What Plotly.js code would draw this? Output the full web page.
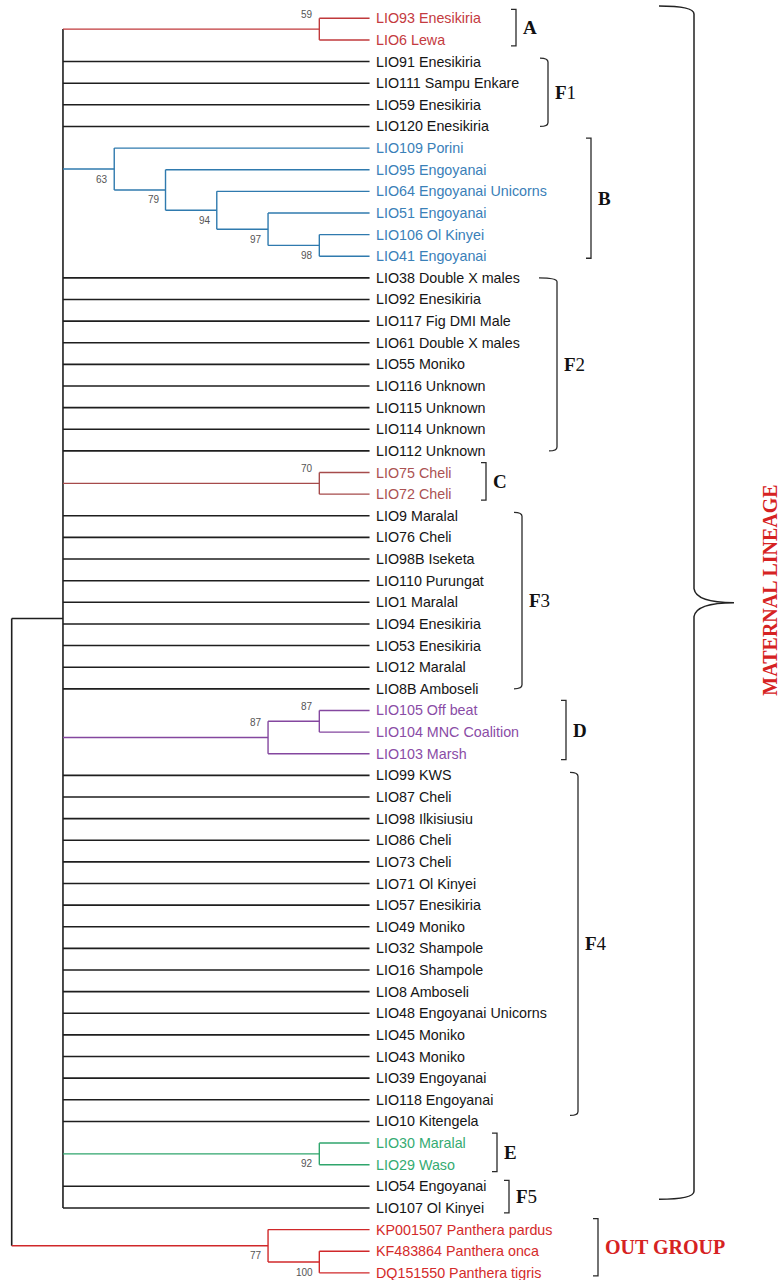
<!DOCTYPE html>
<html><head><meta charset="utf-8">
<script src="https://cdn.plot.ly/plotly-3.0.1.min.js"></script>
<style>html,body{margin:0;padding:0;background:#fff}#chart{width:783px;height:1280px}</style>
</head><body><div id="chart"></div>
<script>
// ---------------- DATA ----------------
const taxa = [
 'LIO93 Enesikiria','LIO6 Lewa',
 'LIO91 Enesikiria','LIO111 Sampu Enkare','LIO59 Enesikiria','LIO120 Enesikiria',
 'LIO109 Porini','LIO95 Engoyanai','LIO64 Engoyanai Unicorns','LIO51 Engoyanai','LIO106 Ol Kinyei','LIO41 Engoyanai',
 'LIO38 Double X males','LIO92 Enesikiria','LIO117 Fig DMI Male','LIO61 Double X males','LIO55 Moniko','LIO116 Unknown','LIO115 Unknown','LIO114 Unknown','LIO112 Unknown',
 'LIO75 Cheli','LIO72 Cheli',
 'LIO9 Maralal','LIO76 Cheli','LIO98B Iseketa','LIO110 Purungat','LIO1 Maralal','LIO94 Enesikiria','LIO53 Enesikiria','LIO12 Maralal','LIO8B Amboseli',
 'LIO105 Off beat','LIO104 MNC Coalition','LIO103 Marsh',
 'LIO99 KWS','LIO87 Cheli','LIO98 Ilkisiusiu','LIO86 Cheli','LIO73 Cheli','LIO71 Ol Kinyei','LIO57 Enesikiria','LIO49 Moniko','LIO32 Shampole','LIO16 Shampole','LIO8 Amboseli','LIO48 Engoyanai Unicorns','LIO45 Moniko','LIO43 Moniko','LIO39 Engoyanai','LIO118 Engoyanai','LIO10 Kitengela',
 'LIO30 Maralal','LIO29 Waso',
 'LIO54 Engoyanai','LIO107 Ol Kinyei',
 'KP001507 Panthera pardus','KF483864 Panthera onca','DQ151550 Panthera tigris'
];
const taxonParent = [
 'A','A',
 'IN','IN','IN','IN',
 'B','B79','B94','B97','B98','B98',
 'IN','IN','IN','IN','IN','IN','IN','IN','IN',
 'C','C',
 'IN','IN','IN','IN','IN','IN','IN','IN','IN',
 'D87','D87','D',
 'IN','IN','IN','IN','IN','IN','IN','IN','IN','IN','IN','IN','IN','IN','IN','IN','IN',
 'E','E',
 'IN','IN',
 'OUT','OUT100','OUT100'
];
const nodeIds      = ['ROOT','IN','A','B','B79','B94','B97','B98','C','D','D87','E','OUT','OUT100'];
const nodeParent   = [null,'ROOT','IN','IN','B','B79','B94','B97','IN','IN','D','IN','ROOT','OUT'];
const nodeDepth    = [0,1,6,2,3,4,5,6,6,5,6,6,5,6];
const nodeClade    = ['','','A','B','B','B','B','B','C','D','D','E','OUT','OUT'];
const nodeSupport  = [null,null,59,63,79,94,97,98,70,87,87,92,77,100];
const supportSide  = ['','','above','below','below','below','below','below','above','above','above','below','below','below'];
const tipDepth = 6.98;

const bracketLabels = ['A','F1','B','F2','C','F3','D','F4','E','F5','OUT GROUP'];
const bracketFirst  = [0,2,6,12,21,23,32,35,52,54,56];
const bracketLast   = [1,5,11,20,22,31,34,51,53,55,58];
const lineageLabel = 'MATERNAL LINEAGE';
const lineageFirst = 0, lineageLast = 55;

// ---------------- STYLE ----------------
const W=783, H=1280;
const PX0=11.7, STEP=51.27;   // pixel of depth 0, pixels per depth unit
const PY0=18.3, ROW=21.63;    // pixel of first row, pixels per row
const LABEL_GAP=5;            // px between branch tip and label
const cladeLine = {'':'#1e1e1e', A:'#c0393b', B:'#2f7aae', C:'#a64b4b', D:'#84479f', E:'#2fa56c', OUT:'#d0282a'};
const cladeText = {'':'#151515', A:'#c43a40', B:'#3a80b8', C:'#ab5252', D:'#8a4ca6', E:'#35ab72', OUT:'#d42a2a'};
const bracketX   = [516,548,591,557,486,522,566,578,497,509,598];
const bracketTopPad = [9,3.5,10,0,10,3.5,10,3,10,6,11];
const bracketBotPad = [6,0,2,0,6,0,6,-6,7,5,3];
const bracketTick   = [5,8,5,18,5,8,5,8,5,5,5];
const bracketRound  = [false,true,false,true,false,true,false,true,false,false,false];
const serif = 'Liberation Serif, Times New Roman, serif';
const sans = 'Liberation Sans, Arial, sans-serif';

// ---------------- BUILD ----------------
const xr=[-PX0/STEP,(W-PX0)/STEP];
const yr=[(H-PY0)/ROW,-PY0/ROW];
const nodeIndex = {}; nodeIds.forEach((id,i)=>nodeIndex[id]=i);
const nodeY = {};
function childYs(id){
  const ys=[];
  taxa.forEach((t,i)=>{ if(taxonParent[i]===id) ys.push(i); });
  nodeIds.forEach((n,j)=>{ if(nodeParent[j]===id) ys.push(getY(n)); });
  return ys;
}
function getY(id){
  if(nodeY[id]!==undefined) return nodeY[id];
  const ys=childYs(id);
  nodeY[id]=(Math.min(...ys)+Math.max(...ys))/2;
  return nodeY[id];
}
nodeIds.forEach(getY);

const segs={};
function seg(clade,x0,y0,x1,y1){
  if(!segs[clade]) segs[clade]={x:[],y:[]};
  segs[clade].x.push(x0,x1,null); segs[clade].y.push(y0,y1,null);
}
nodeIds.forEach((id,j)=>{
  const ys=childYs(id);
  seg(nodeClade[j], nodeDepth[j], Math.min(...ys), nodeDepth[j], Math.max(...ys));
  if(nodeParent[j]!==null){
    const p=nodeIndex[nodeParent[j]];
    seg(nodeClade[j], nodeDepth[p], nodeY[id], nodeDepth[j], nodeY[id]);
  }
});
const leafClade = taxonParent.map(p=>nodeClade[nodeIndex[p]]);
taxa.forEach((t,i)=>{
  const p=nodeIndex[taxonParent[i]];
  seg(leafClade[i], nodeDepth[p], i, tipDepth, i);
});

const traces=[];
Object.keys(segs).forEach(c=>{
  traces.push({type:'scatter',mode:'lines',x:segs[c].x,y:segs[c].y,
    line:{color:cladeLine[c],width:c===''?1.6:1.4},hoverinfo:'skip',connectgaps:false});
});

const annotations=[];
taxa.forEach((t,i)=>{
  annotations.push({x:tipDepth,y:i,xref:'x',yref:'y',text:t,showarrow:false,
    xanchor:'left',yanchor:'middle',xshift:LABEL_GAP-1,
    font:{family:sans,size:14.3,color:cladeText[leafClade[i]]}});
});
nodeIds.forEach((id,j)=>{
  if(nodeSupport[j]===null) return;
  annotations.push({x:nodeDepth[j],y:nodeY[id],xref:'x',yref:'y',text:String(nodeSupport[j]),
    showarrow:false,xanchor:'right',yanchor:'middle',xshift:-4,
    yshift: supportSide[j]==='above'?15:-10,
    font:{family:sans,size:10,color:'#555'}});
});

const shapes=[];
const px=v=>v/W;
bracketLabels.forEach((lab,k)=>{
  const x=px(bracketX[k]), xt=px(bracketX[k]-bracketTick[k]), xt2=px(bracketX[k]-(k===3?8:bracketTick[k]));
  const yT=bracketFirst[k]-bracketTopPad[k]/ROW, yB=bracketLast[k]+bracketBotPad[k]/ROW;
  const r=4/ROW;
  let path;
  if(bracketRound[k]) path=`M${xt},${yT} Q${x},${yT} ${x},${yT+r} L${x},${yB-r} Q${x},${yB} ${xt2},${yB}`;
  else path=`M${xt},${yT} L${x},${yT} L${x},${yB} L${xt},${yB}`;
  shapes.push({type:'path',xref:'paper',yref:'y',path:path,line:{color:'#2a2a2a',width:1.3}});
  const isOut = lab==='OUT GROUP';
  const txt = /^F\d$/.test(lab) ? '<b>F</b>'+lab.slice(1) : '<b>'+lab+'</b>';
  annotations.push({x:px(bracketX[k]+5),y:(yT+yB)/2,xref:'paper',yref:'y',text:txt,showarrow:false,
    xanchor:'left',yanchor:'middle',font:{family:serif,size:isOut?20:19,color:isOut?'#d62222':'#111'}});
});
// Maternal lineage brace
{
  const yT=lineageFirst-0.57, yB=lineageLast-0.4, yC=(yT+yB)/2;
  const xv=px(694), xl=px(659), xc=px(734), r=8/ROW, c=14/ROW;
  const path=`M${xl},${yT} Q${xv},${yT} ${xv},${yT+r} L${xv},${yC-c} Q${px(696)},${yC} ${xc},${yC} Q${px(696)},${yC} ${xv},${yC+c} L${xv},${yB-r} Q${xv},${yB} ${xl},${yB}`;
  shapes.push({type:'path',xref:'paper',yref:'y',path:path,line:{color:'#222',width:1.5}});
  annotations.push({x:px(770),y:yC-12/ROW,xref:'paper',yref:'y',text:'<b>'+lineageLabel+'</b>',showarrow:false,
    textangle:-90,xanchor:'center',yanchor:'middle',font:{family:serif,size:20,color:'#d62222'}});
}

Plotly.newPlot('chart',traces,{
  width:W,height:H,margin:{l:0,r:0,t:0,b:0},showlegend:false,
  paper_bgcolor:'#fff',plot_bgcolor:'#fff',
  xaxis:{range:xr,visible:false,fixedrange:true},
  yaxis:{range:yr,visible:false,fixedrange:true},
  shapes:shapes,annotations:annotations
},{displayModeBar:false,staticPlot:true});
</script></body></html>
